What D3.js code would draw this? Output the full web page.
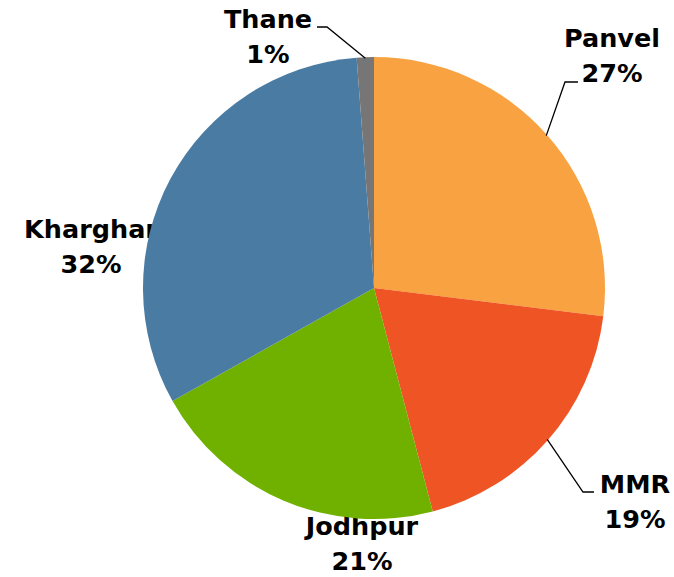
<!DOCTYPE html>
<html>
<head>
<meta charset="utf-8">
<script src="https://cdn.jsdelivr.net/npm/d3@7"></script>
<style>
  body { margin: 0; background: #fff; }
  text { font-family: "DejaVu Sans", sans-serif; font-weight: bold; fill: #000; }
</style>
</head>
<body>
<div id="chart"></div>
<script>
var places = ["Panvel", "MMR", "Jodhpur", "Kharghar", "Thane"];
var shares = [27, 19, 21, 32, 1.2];
var colors = ["#F8A242", "#EF5424", "#70B100", "#4A7BA3", "#767676"];

// label layout: centre x, first baseline y, leader elbow/end (null = no leader)
var labelPos = [
  {x: 612, y: 47, elbow: [565, 82], end: [578, 82]},
  {x: 635, y: 493, elbow: [583, 492], end: [594, 492]},
  {x: 362, y: 535, elbow: null},
  {x: 91, y: 238, elbow: null},
  {x: 268, y: 28, elbow: [327, 27], end: [317, 27]}
];

var width = 674, height = 577;
var cx = 374, cy = 288, radius = 231;

var svg = d3.select("#chart").append("svg")
  .attr("width", width)
  .attr("height", height);

var data = places.map(function(p, i){ return {name: p, value: shares[i], color: colors[i]}; });
var total = d3.sum(shares);

var pie = d3.pie().sort(null).value(function(d){ return d.value; });
var arcs = pie(data);
var arc = d3.arc().innerRadius(0).outerRadius(radius);

// labels first, the pie overlaps the Kharghar label a bit
var labels = svg.append("g").selectAll("text").data(arcs).enter().append("text")
  .attr("text-anchor", "middle")
  .style("font-size", "25.5px");
labels.append("tspan")
  .attr("x", function(d, i){ return labelPos[i].x; })
  .attr("y", function(d, i){ return labelPos[i].y; })
  .text(function(d){ return d.data.name; });
labels.append("tspan")
  .attr("x", function(d, i){ return labelPos[i].x; })
  .attr("dy", 35)
  .text(function(d){ return Math.round(d.data.value / total * 100) + "%"; });

var g = svg.append("g").attr("transform", "translate(" + cx + "," + cy + ")");

g.selectAll("path").data(arcs).enter().append("path")
  .attr("d", arc)
  .attr("fill", function(d){ return d.data.color; });

// leader lines from slice mid angle to the label
svg.append("g").selectAll("polyline")
  .data(arcs.filter(function(d, i){ return labelPos[i].elbow; }))
  .enter().append("polyline")
  .attr("fill", "none")
  .attr("stroke", "#000")
  .attr("stroke-width", 1.3)
  .attr("points", function(d){
    var i = d.index;
    var a = (d.startAngle + d.endAngle) / 2;
    var sx = cx + Math.sin(a) * (radius - 1);
    var sy = cy - Math.cos(a) * (radius - 1);
    var p = labelPos[i];
    return [[sx, sy], p.elbow, p.end].map(function(q){ return q.join(","); }).join(" ");
  });
</script>
</body>
</html>
